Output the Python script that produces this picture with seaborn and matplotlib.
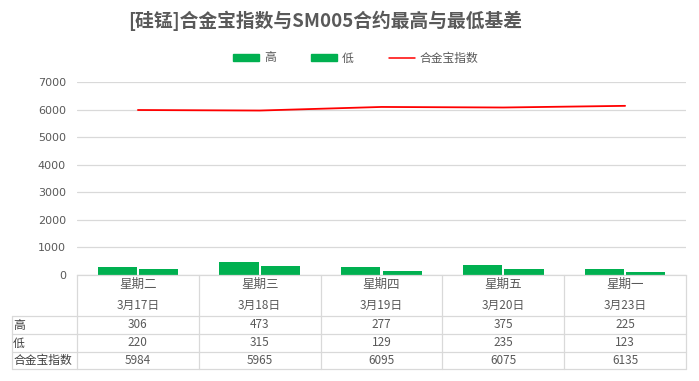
import matplotlib
matplotlib.use("Agg")
import matplotlib.pyplot as plt
import matplotlib.transforms as mtransforms
from matplotlib.lines import Line2D
from matplotlib.patches import Patch
import numpy as np
import pandas as pd
import seaborn as sns

# ---- data ----
weekdays = ["星期二", "星期三", "星期四", "星期五", "星期一"]
dates = ["3月17日", "3月18日", "3月19日", "3月20日", "3月23日"]
high = [306, 473, 277, 375, 225]
low = [220, 315, 129, 235, 123]
index_vals = [5984, 5965, 6095, 6075, 6135]
series_names = ["高", "低", "合金宝指数"]
title = "[硅锰]合金宝指数与SM005合约最高与最低基差"
yticks = [0, 1000, 2000, 3000, 4000, 5000, 6000, 7000]

sns.set_theme(style="white")
plt.rcParams["font.family"] = ["Noto Sans CJK SC", "DejaVu Sans"]

W, H = 699, 381
fig = plt.figure(figsize=(W / 100, H / 100), dpi=100)
ax = fig.add_axes([77 / W, 1 - 275 / H, (686 - 77) / W, (275 - 82) / H])

green = "#00B050"
gray_txt = "#595959"
grid_c = "#D9D9D9"

df = pd.DataFrame({
    "cat": weekdays * 2,
    "val": high + low,
    "series": [series_names[0]] * 5 + [series_names[1]] * 5,
})
sns.barplot(data=df, x="cat", y="val", hue="series", order=weekdays,
            hue_order=series_names[:2], palette=[green, green],
            width=0.68, gap=0.05, ax=ax, legend=False, saturation=1,
            linewidth=0)
sns.lineplot(x=np.arange(len(weekdays)), y=index_vals, color="#FF0000",
             linewidth=1.3, ax=ax, legend=False)

ax.set_xlim(-0.5, len(weekdays) - 0.5)
ax.set_ylim(0, 7000)
ax.set_yticks(yticks)
ax.set_yticklabels([str(v) for v in yticks], color=gray_txt, fontsize=8,
                   family=["DejaVu Sans"])
ax.tick_params(axis="y", length=0, pad=8)
ax.set_xticks([])
ax.set_xlabel("")
ax.set_ylabel("")
ax.yaxis.grid(True, color=grid_c, linewidth=0.9)
ax.set_axisbelow(True)
for s in ["top", "right", "left"]:
    ax.spines[s].set_visible(False)
ax.spines["bottom"].set_color(grid_c)
ax.spines["bottom"].set_linewidth(0.9)

# ---- data table ----
trans = mtransforms.blended_transform_factory(ax.transData, fig.transFigure)
def fy(py):
    return 1 - py / H

row_lines = [316, 334, 352, 369]
x_left_fig = 12 / W
for i in range(len(weekdays) + 1):
    ax.add_line(Line2D([i - 0.5, i - 0.5], [fy(275), fy(369)], transform=trans,
                       color=grid_c, linewidth=0.9, clip_on=False))
for py in row_lines:
    fig.add_artist(Line2D([x_left_fig, 686 / W], [fy(py), fy(py)],
                          color=grid_c, linewidth=0.9))
fig.add_artist(Line2D([x_left_fig, x_left_fig], [fy(316), fy(369)],
                      color=grid_c, linewidth=0.9))

for i in range(len(weekdays)):
    ax.text(i, fy(284), weekdays[i], transform=trans, ha="center", va="center",
            fontsize=9, color=gray_txt, clip_on=False)
    ax.text(i, fy(305), dates[i], transform=trans, ha="center", va="center",
            fontsize=8.5, color=gray_txt, clip_on=False)
    for r, vals in enumerate([high, low, index_vals]):
        yc = (row_lines[r] + row_lines[r + 1]) / 2
        ax.text(i, fy(yc), str(vals[i]), transform=trans, ha="center",
                va="center", fontsize=8.5, color=gray_txt, clip_on=False)
for r, name in enumerate(series_names):
    yc = (row_lines[r] + row_lines[r + 1]) / 2
    fig.text(13 / W, fy(yc), name, ha="left", va="center", fontsize=8.5,
             color="#404040")

# ---- title & legend ----
fig.text(325 / W, fy(21), title, ha="center", va="center", fontsize=13.5,
         fontweight="bold", color=gray_txt)
handles = [Patch(facecolor=green, edgecolor=green),
           Patch(facecolor=green, edgecolor=green),
           Line2D([0], [0], color="#FF0000", linewidth=1.1)]
fig.legend(handles, series_names, loc="center", bbox_to_anchor=(356 / W, fy(58)),
           ncol=3, frameon=False, fontsize=8.5, handlelength=2.2,
           handleheight=0.6, columnspacing=3.0, handletextpad=0.4,
           labelcolor=gray_txt)

fig.savefig("out.png", dpi=100, facecolor="white")
